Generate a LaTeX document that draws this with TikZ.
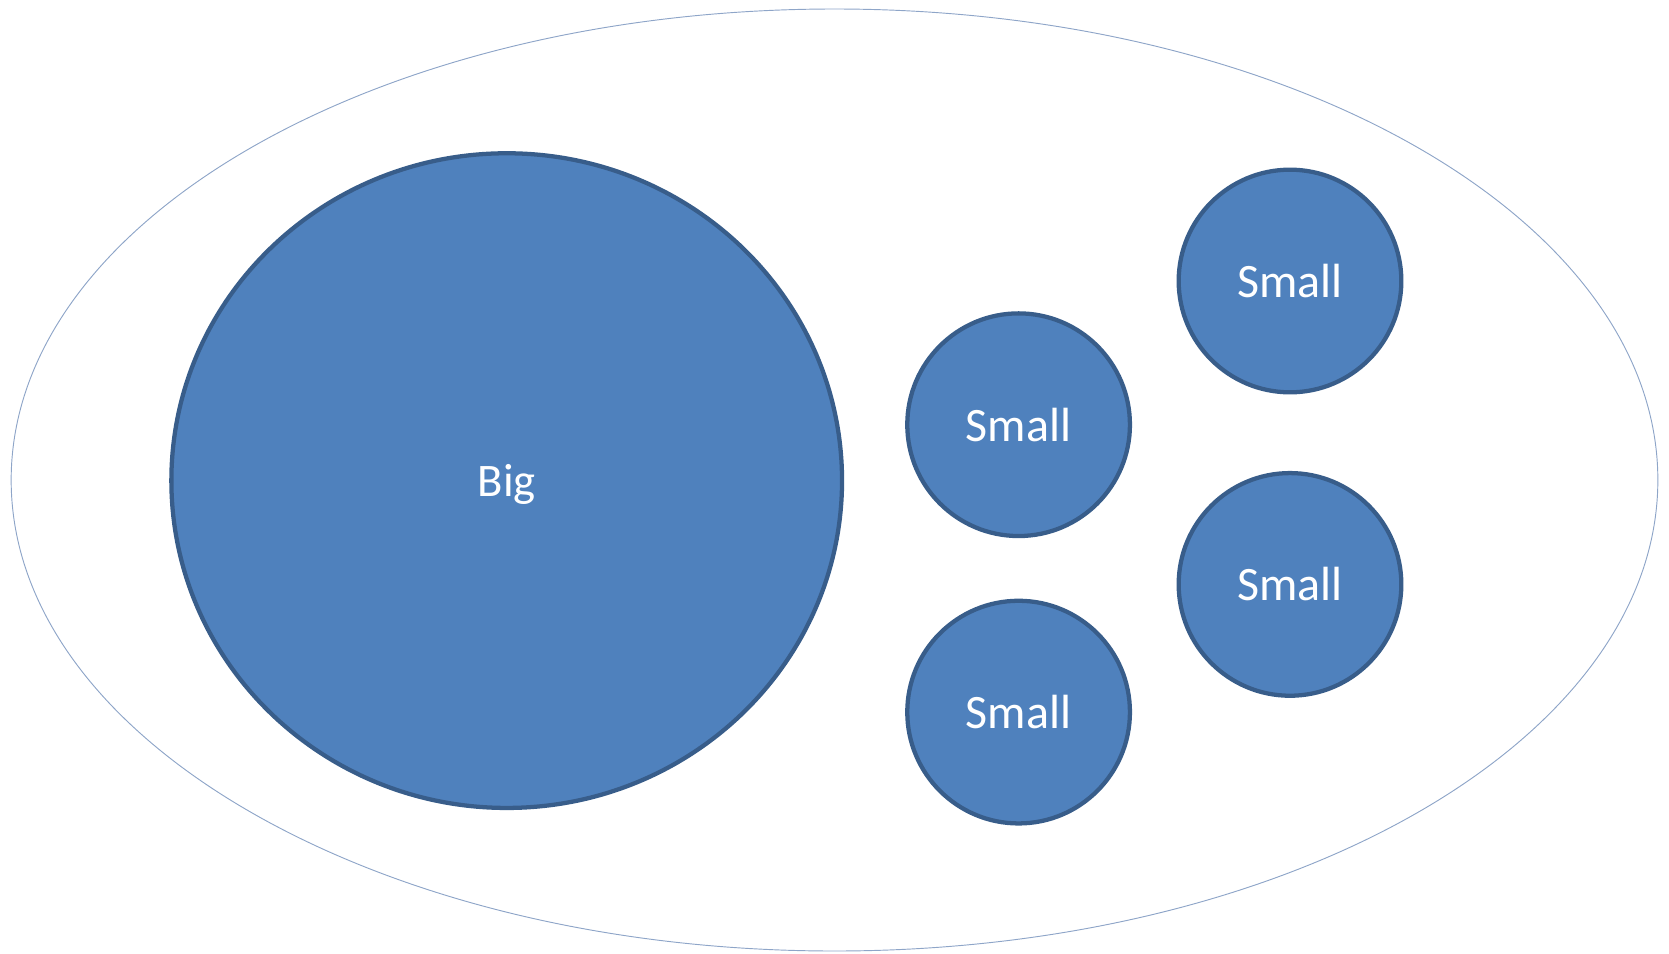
\documentclass[tikz,border=0pt]{standalone}
\usepackage{fontspec}
\setmainfont{Carlito}
\usetikzlibrary{shapes.geometric}
\definecolor{myFill}{HTML}{4F81BD}
\definecolor{myLine}{HTML}{385D8A}
\definecolor{myRim}{HTML}{8EA5C8}

\begin{document}
\begin{tikzpicture}[x=0.75pt, y=-0.75pt]
  \tikzstyle{O}=[ellipse,draw=myRim,line width=0.7pt,minimum width=1235pt,minimum height=706.5pt,inner sep=0pt]
  \tikzstyle{B}=[ellipse,fill=myFill,draw=myLine,line width=3.2pt,minimum width=503pt,minimum height=491pt,inner sep=0pt,text=white,font=\fontsize{35}{38}\selectfont]
  \tikzstyle{S}=[circle,fill=myFill,draw=myLine,line width=3.2pt,minimum size=167pt,inner sep=0pt,text=white,font=\fontsize{36}{40}\selectfont]

  \useasboundingbox (0,0) rectangle (1669,953);

  \node[O] at (834.5,480) (outer) {};

  \node[B] at (506.7,480.6) (big) {};
  \node[text=white,font=\fontsize{35}{38}\selectfont] at (506.7,484) (bigtext) {Big};

  \node[S] at (1018.6,424.7) (s1) {Small};
  \node[S] at (1290,281) (s2) {Small};
  \node[S] at (1290,584.4) (s3) {Small};
  \node[S] at (1018.6,712.1) (s4) {Small};

\end{tikzpicture}
\end{document}
